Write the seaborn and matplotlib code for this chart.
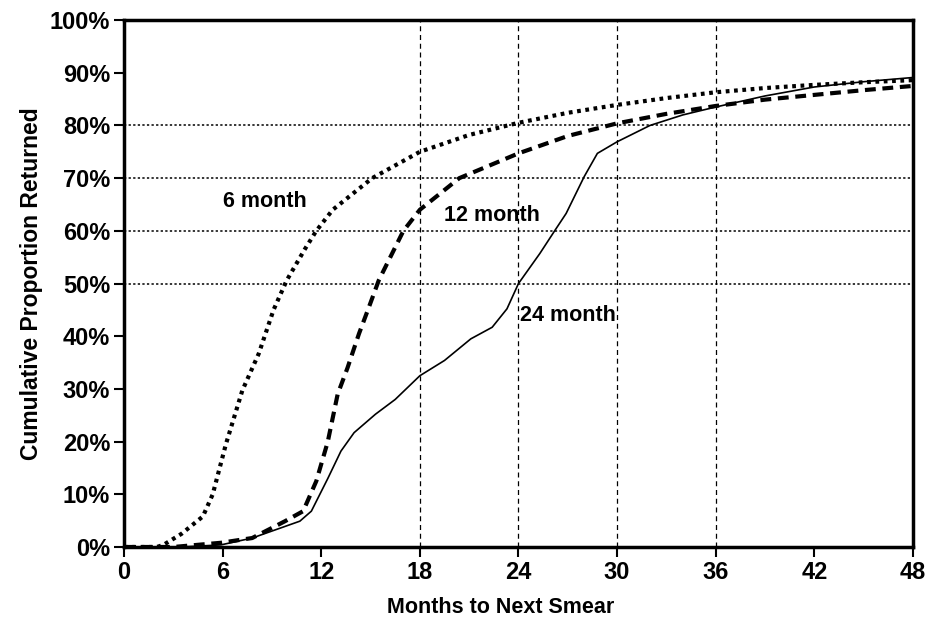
import matplotlib
matplotlib.use("Agg")
import matplotlib.pyplot as plt
import seaborn as sns
import pandas as pd
from matplotlib.ticker import PercentFormatter

# months vs cumulative % returned
six_x = [0, 2.0, 2.4, 3.5, 4.8, 5.4, 6.2, 7.2, 8.2, 9.1, 9.9, 11.0, 11.7, 12.7, 15.1, 18, 21, 24, 27, 30, 33, 36, 39, 42, 45, 48]
six_y = [0, 0, 0.4, 2.5, 5.8, 10, 19.5, 29.7, 36.7, 45, 50.6, 56.5, 60, 64, 70, 75, 78.2, 80.5, 82.4, 83.9, 85.2, 86.3, 87.1, 87.7, 88.2, 88.6]

twelve_x = [0, 3, 5.9, 7.8, 9.8, 10.9, 11.7, 12.4, 13, 13.6, 14.3, 14.9, 15.5, 17, 18, 20.4, 24, 27, 30, 33, 36, 39, 42, 45, 48]
twelve_y = [0, 0, 0.8, 1.7, 4.9, 6.8, 12.5, 20, 29, 34, 40.5, 45.5, 50.6, 60, 64, 70, 74.7, 78, 80.4, 82.2, 83.7, 84.9, 85.8, 86.7, 87.5]

tf_x = [0, 3.5, 5.9, 7.8, 10.7, 11.4, 12.4, 13.2, 14, 15.3, 16.5, 18, 19.5, 21.1, 22.4, 23.3, 24, 25.3, 26.2, 26.9, 28, 28.8, 30, 32, 34, 36, 39, 42, 45, 48]
tf_y = [0, 0, 0.4, 1.7, 4.9, 6.8, 13, 18.2, 21.7, 25.2, 28, 32.5, 35.4, 39.5, 41.7, 45.2, 50, 55.7, 60, 63.3, 70.3, 74.7, 76.9, 80, 82, 83.5, 85.6, 87.3, 88.3, 89.1]

labels = ["6 month", "12 month", "24 month"]
label_pos = [(8.6, 65.5), (22.4, 63.0), (27.0, 44.0)]
x_ticks = [0, 6, 12, 18, 24, 30, 36, 42, 48]
y_ticks = [0, 10, 20, 30, 40, 50, 60, 70, 80, 90, 100]

sns.set_theme(style="white")
plt.rcParams['font.family'] = ['Liberation Sans', 'DejaVu Sans']

fig = plt.figure(figsize=(9.3, 6.27), dpi=100)
ax = fig.add_axes([0.1333, 0.1276, 0.8484, 0.8404])

# grid: dashed verticals at 18..36, dotted horizontals at 50..80
for gx in [18, 24, 30, 36]:
    ax.axvline(gx, color="black", lw=0.9, ls=(0, (4, 3)), zorder=1)
for gy in [50, 60, 70, 80]:
    ax.axhline(gy, color="black", lw=1.1, ls=(0, (1.5, 1.5)), zorder=1)

df6 = pd.DataFrame({"x": six_x, "y": six_y})
df12 = pd.DataFrame({"x": twelve_x, "y": twelve_y})
df24 = pd.DataFrame({"x": tf_x, "y": tf_y})

sns.lineplot(data=df6, x="x", y="y", ax=ax, color="black", lw=3.0,
             linestyle=(0, (0.9, 1.1)), dash_capstyle="butt", zorder=3)
sns.lineplot(data=df12, x="x", y="y", ax=ax, color="black", lw=3.0,
             linestyle=(0, (2.6, 1.6)), zorder=3)
sns.lineplot(data=df24, x="x", y="y", ax=ax, color="black", lw=1.2,
             linestyle="-", zorder=3)

for lab, (lx, ly) in zip(labels, label_pos):
    ax.text(lx, ly, lab, ha="center", va="center", fontsize=15.5,
            fontweight="bold", color="black", zorder=4)

ax.set_xlim(0, 48)
ax.set_ylim(0, 100)
ax.set_xticks(x_ticks)
ax.set_yticks(y_ticks)
ax.yaxis.set_major_formatter(PercentFormatter(100, decimals=0))
ax.tick_params(axis="both", direction="out", length=7, width=1.5,
               color="black", labelsize=17, pad=3, labelcolor="black",
               left=True, bottom=True)
for t in ax.get_xticklabels() + ax.get_yticklabels():
    t.set_fontweight("bold")

for s in ax.spines.values():
    s.set_color("black")
    s.set_linewidth(2.5)

ax.set_xlabel("Months to Next Smear", fontsize=15.5, fontweight="bold",
              color="black", labelpad=10)
ax.xaxis.set_label_coords(0.477, -0.095)
ax.set_ylabel("Cumulative Proportion Returned", fontsize=16.5, fontweight="bold",
              color="black", labelpad=5)

fig.savefig("out.png", dpi=100)
